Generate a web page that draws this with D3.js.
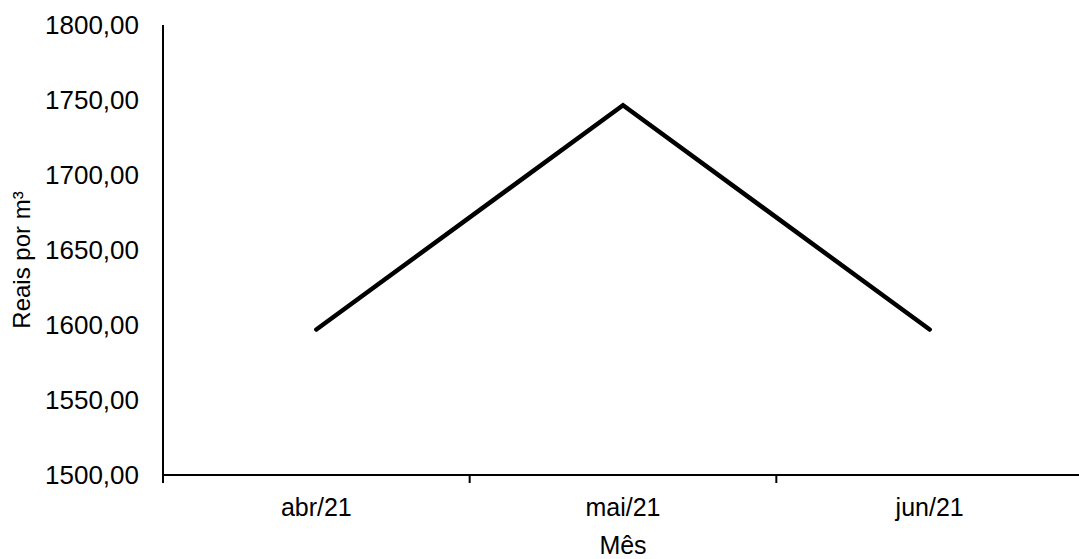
<!DOCTYPE html>
<html>
<head>
<meta charset="utf-8">
<script src="https://cdn.jsdelivr.net/npm/d3@7"></script>
<style>
  body { margin: 0; background: #fff; }
  text { font-family: "Liberation Sans", Arial, sans-serif; fill: #000; }
</style>
</head>
<body>
<script>
const w = 1079;
const h = 559;

// data
const months = ["abr/21", "mai/21", "jun/21"];
const prices = [1597, 1746.5, 1597];
const yTicks = [1500, 1550, 1600, 1650, 1700, 1750, 1800];

const xAxisLabel = "Mês";
const yAxisLabel = "Reais por m³";

const m = { t: 25, r: -4, b: 84, l: 163 };

const svg = d3.select("body").append("svg").attr("width", w).attr("height", h);

const xScale = d3
  .scaleBand()
  .domain(months)
  .range([m.l, w - m.r])
  .padding(0);

const yScale = d3
  .scaleLinear()
  .domain([1500, 1800])
  .range([h - m.b, m.t]);

const fmt = (d) => d3.format(".2f")(d).replace(".", ",");

// y-axis
svg
  .append("line")
  .attr("x1", m.l)
  .attr("x2", m.l)
  .attr("y1", yScale(1800))
  .attr("y2", yScale(1500))
  .attr("stroke", "#000")
  .attr("stroke-width", 2);

svg
  .selectAll(".ytick")
  .data(yTicks)
  .enter()
  .append("text")
  .attr("class", "ytick")
  .attr("x", m.l - 24)
  .attr("y", (d) => yScale(d))
  .attr("dy", "0.35em")
  .attr("text-anchor", "end")
  .style("font-size", "26px")
  .text(fmt);

// x-axis
const x0 = yScale(1500);
svg
  .append("line")
  .attr("x1", m.l)
  .attr("x2", w - m.r)
  .attr("y1", x0)
  .attr("y2", x0)
  .attr("stroke", "#000")
  .attr("stroke-width", 2);

const bounds = months.map((d) => xScale(d)).concat([xScale.range()[1]]);
svg
  .selectAll(".xtick")
  .data(bounds)
  .enter()
  .append("line")
  .attr("class", "xtick")
  .attr("x1", (d) => d)
  .attr("x2", (d) => d)
  .attr("y1", x0)
  .attr("y2", x0 + 8)
  .attr("stroke", "#000")
  .attr("stroke-width", 2);

svg
  .selectAll(".xlabel")
  .data(months)
  .enter()
  .append("text")
  .attr("class", "xlabel")
  .attr("x", (d) => xScale(d) + xScale.bandwidth() / 2)
  .attr("y", 516)
  .attr("text-anchor", "middle")
  .style("font-size", "25px")
  .text((d) => d);

// axis titles
svg
  .append("text")
  .attr("x", 623)
  .attr("y", 554)
  .attr("text-anchor", "middle")
  .style("font-size", "25px")
  .text(xAxisLabel);

svg
  .append("text")
  .attr("transform", "rotate(-90)")
  .attr("x", -260)
  .attr("y", 30)
  .attr("text-anchor", "middle")
  .style("font-size", "24px")
  .text(yAxisLabel);

// line
const line = d3
  .line()
  .x((d, i) => xScale(months[i]) + xScale.bandwidth() / 2)
  .y((d) => yScale(d));

svg
  .append("path")
  .datum(prices)
  .attr("d", line)
  .attr("fill", "none")
  .attr("stroke", "#000")
  .attr("stroke-width", 4.5)
  .attr("stroke-linecap", "round")
  .attr("stroke-linejoin", "miter");
</script>
</body>
</html>
